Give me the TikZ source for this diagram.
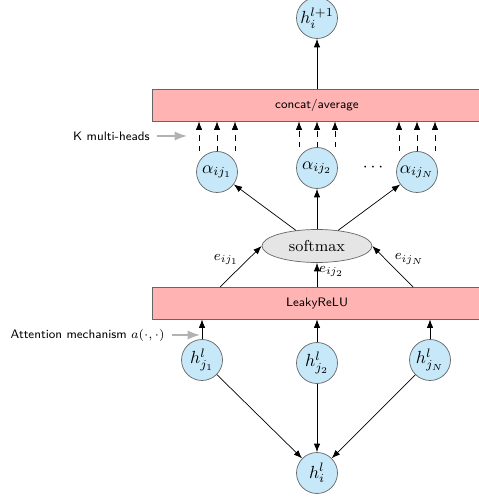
\documentclass[tikz,border=0pt]{standalone}
\usetikzlibrary{positioning}
\usetikzlibrary{arrows.meta}
\usetikzlibrary{shapes.geometric}
\definecolor{nodeblue}{RGB}{198,232,248}
\definecolor{boxred}{RGB}{255,179,179}

\begin{document}
\begin{tikzpicture}[x=0.02cm, y=0.02cm,
    neuron/.style={circle, draw=black!60, fill=nodeblue, minimum size=0.82cm, inner sep=0pt},
    layer/.style={rectangle, draw=black!60, fill=boxred, minimum width=6.6cm, minimum height=0.64cm, font=\sffamily\scriptsize},
    note/.style={anchor=east, inner sep=0pt, font=\sffamily\scriptsize},
    arr/.style={-{Latex}},
    head/.style={dashed, -{Latex}},
    pointer/.style={gray!60, line width=0.9pt, -{Latex}},
    elabel/.style={font=\footnotesize, inner sep=1pt}]
    \useasboundingbox (0,0) rectangle (478,497);

    \node (hout) [neuron] at (317,479) {$h_i^{l+1}$};
    \node (concat) [layer] at (317,392) {concat/average};
    \node (a1) [neuron] at (217,325) {$\alpha_{ij_1}$};
    \node (a2) [neuron] at (317,329) {$\alpha_{ij_2}$};
    \node (aN) [neuron] at (417,325) {$\alpha_{ij_N}$};
    \node (dots) at (373,329) {$\cdots$};
    \node (soft) [ellipse, draw=black!60, fill=gray!20, minimum width=2.2cm, minimum height=0.66cm, font=\small] at (317,251) {softmax};
    \node (leaky) [layer] at (317,194) {LeakyReLU};
    \node (hj1) [neuron] at (202,137) {$h_{j_1}^l$};
    \node (hj2) [neuron] at (317,134) {$h_{j_2}^l$};
    \node (hjN) [neuron] at (430,137) {$h_{j_N}^l$};
    \node (hi) [neuron] at (317,24) {$h_i^l$};

    \node (heads) [note] at (150,361) {K multi-heads};
    \coordinate (headtip) at (187,361);
    \node (attn) [note] at (165,162) {Attention mechanism $a(\cdot,\cdot)$};
    \coordinate (attntip) at (200,162);
    \coordinate (e1) at (220,210);
    \coordinate (eN) at (413,210);

    \draw[arr] (hj1) -- (hi);
    \draw[arr] (hj2) -- (hi);
    \draw[arr] (hjN) -- (hi);
    \draw[arr] (hj1) -- (hj1 |- leaky.south);
    \draw[arr] (hj2) -- (hj2 |- leaky.south);
    \draw[arr] (hjN) -- (hjN |- leaky.south);
    \draw[arr] (e1) -- node[elabel, above left] {$e_{ij_1}$} (soft.west);
    \draw[arr] (leaky.north) -- node[elabel, right, pos=0.65] {$e_{ij_2}$} (soft.south);
    \draw[arr] (eN) -- node[elabel, above right] {$e_{ij_N}$} (soft.east);
    \draw[arr] (soft) -- (a1);
    \draw[arr] (soft) -- (a2);
    \draw[arr] (soft) -- (aN);
    \foreach \a in {a1,a2,aN}
        \foreach \dx in {-0.36cm,0cm,0.36cm}
            \draw[head] ([xshift=\dx]\a.north) -- ([xshift=\dx]\a.north |- concat.south);
    \draw[arr] (concat.north) -- (hout);
    \draw[pointer] ([xshift=4pt]heads.east) -- (headtip);
    \draw[pointer] ([xshift=4pt]attn.east) -- (attntip);
\end{tikzpicture}
\end{document}
